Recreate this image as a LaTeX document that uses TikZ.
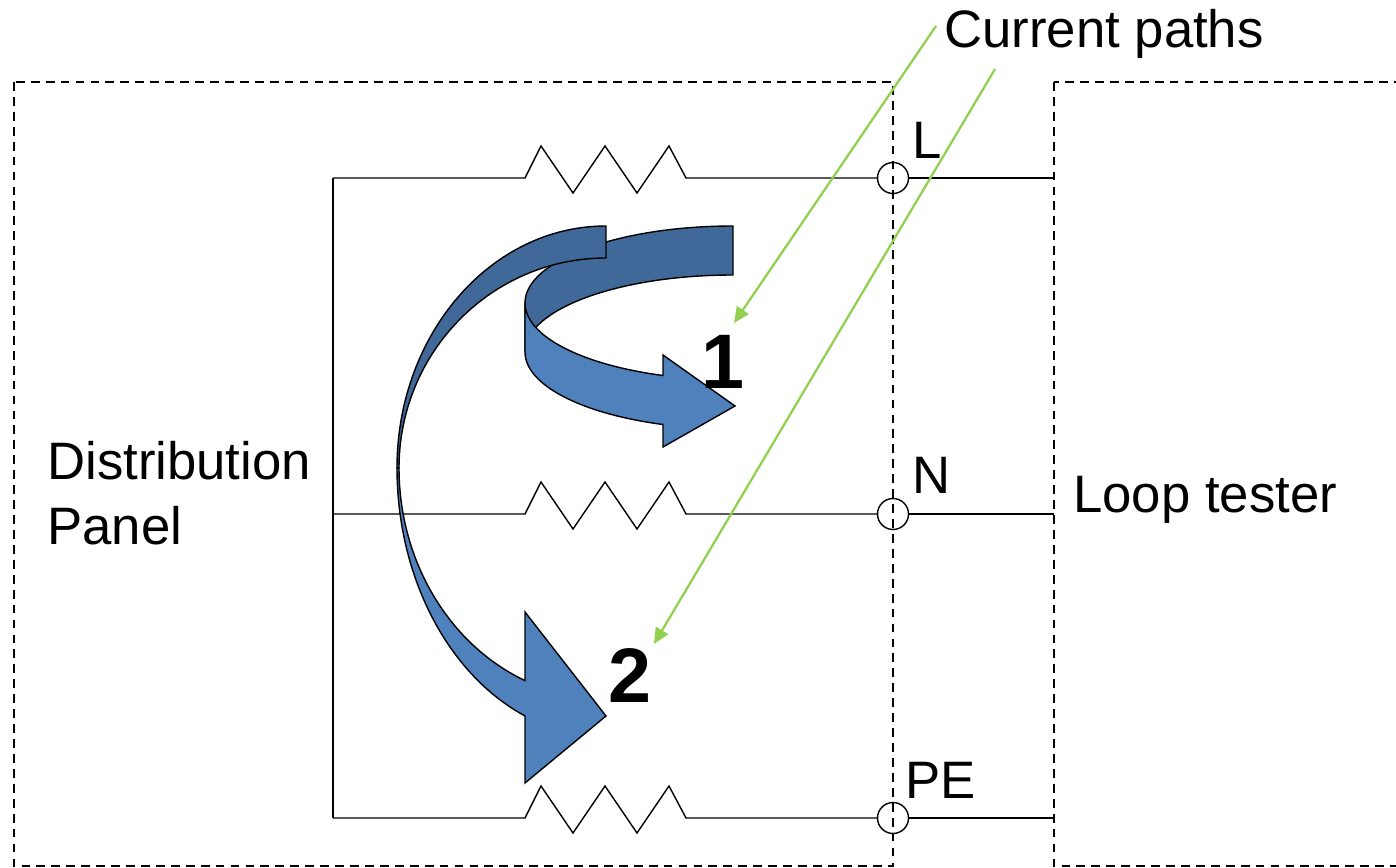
\documentclass[tikz,border=0pt]{standalone}
\usepackage{fontspec}
\setmainfont{Liberation Sans}
\usetikzlibrary{arrows.meta}
\definecolor{pathgreen}{RGB}{146,208,80}
\definecolor{arrowblue}{RGB}{79,129,189}
\definecolor{arrowdark}{RGB}{64,104,152}
\tikzset{
  wire/.style={black, line width=0.8pt},
  panelbox/.style={black, dash pattern=on 5pt off 3.5pt, line width=0.6pt},
  terminal/.style={circle, draw, line width=0.8pt, minimum size=0.62cm, inner sep=0pt},
  lbl/.style={anchor=base west, inner sep=0pt, font=\fontsize{30}{36.5}\selectfont},
  num/.style={inner sep=0pt, font=\fontsize{44}{50}\selectfont\bfseries},
  backface/.style={fill=arrowdark, draw=black, line width=0.8pt},
  frontface/.style={fill=arrowblue, draw=black, line width=0.8pt},
  pointer/.style={pathgreen, line width=1.3pt, -{Triangle[length=9pt,width=8pt]}}
}
\begin{document}
\begin{tikzpicture}[x=0.02cm, y=-0.02cm]
        \useasboundingbox (0,0) rectangle (1396,868);

        \draw[panelbox] (14,82) rectangle (893,866);
        \draw[panelbox] (1054,82) rectangle (1400,866);

        \node[terminal] (tL) at (893,178) {};
        \node[terminal] (tN) at (893,514) {};
        \node[terminal] (tPE) at (893,818) {};

        \coordinate (jL) at (333,178);
        \coordinate (jN) at (333,514);
        \coordinate (jPE) at (333,818);
        \coordinate (xL) at (1054,178);
        \coordinate (xN) at (1054,514);
        \coordinate (xPE) at (1054,818);

        \draw[wire] (jL) -- (jPE);
        \draw[wire] (jL) -- (525,178) -- ++(16,-32) -- ++(32,47) -- ++(32,-47) -- ++(32,47) -- ++(32,-47) -- ++(17,32) -- (tL);
        \draw[wire] (jN) -- (525,514) -- ++(16,-32) -- ++(32,47) -- ++(32,-47) -- ++(32,47) -- ++(32,-47) -- ++(17,32) -- (tN);
        \draw[wire] (jPE) -- (525,818) -- ++(16,-32) -- ++(32,47) -- ++(32,-47) -- ++(32,47) -- ++(32,-47) -- ++(17,32) -- (tPE);
        \draw[wire] (tL) -- (xL);
        \draw[wire] (tN) -- (xN);
        \draw[wire] (tPE) -- (xPE);

        \node[lbl] (labL) at (912,159) {L};
        \node[lbl] (labN) at (912,493) {N};
        \node[lbl] (labPE) at (905,798) {PE};
        \node[lbl, align=left] (panel) at (47,544) {Distribution\\Panel};
        \node[lbl] (tester) at (1073,512) {Loop tester};
        \node[lbl] (paths) at (944,48) {Current paths};

        \filldraw[backface] (525,303) arc[start angle=180, end angle=270, x radius=208, y radius=77] -- (733,275) arc[start angle=270, end angle=180, x radius=208, y radius=77] -- cycle;
        \filldraw[frontface] (525,303) -- (525,352) arc[start angle=180, end angle=109.67, x radius=208, y radius=77] -- (663,447) -- (735,406) -- (663,355) -- (663,375.5) arc[start angle=109.67, end angle=180, x radius=208, y radius=77] -- cycle;

        \filldraw[backface] (606,226) arc[start angle=270, end angle=180, x radius=209, y radius=242] -- (399,468) arc[start angle=180, end angle=270, x radius=207, y radius=210] -- cycle;
        \filldraw[frontface] (397,468) arc[start angle=180, end angle=112.8, x radius=209, y radius=269] -- (525,783) -- (606,716) -- (525,612) -- (525,680.6) arc[start angle=113.04, end angle=180, x radius=207, y radius=231] -- cycle;

        \node[num] (one) at (723,362) {1};
        \node[num] (two) at (630,676) {2};

        \coordinate (p1) at (936,26);
        \coordinate (p2) at (995,69);
        \coordinate (tip1) at (734,323);
        \coordinate (tip2) at (654,644);
        \draw[pointer] (p1) -- (tip1);
        \draw[pointer] (p2) -- (tip2);
\end{tikzpicture}
\end{document}
